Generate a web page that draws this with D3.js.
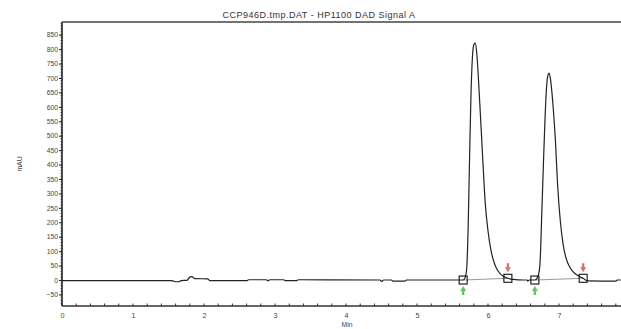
<!DOCTYPE html>
<html>
<head>
<meta charset="utf-8">
<script src="https://cdn.jsdelivr.net/npm/d3@7/dist/d3.min.js"></script>
<style>
  html, body { margin: 0; padding: 0; background: #fff; }
  svg { display: block; font-family: "Liberation Sans", Arial, sans-serif; }
</style>
</head>
<body>
<svg id="chart" width="621" height="329"></svg>
<script>
// Chromatogram trace, [time (min), absorbance (mAU)]
const baselineBefore = [
  [0.00, -2], [1.55, -2], [1.60, -6], [1.64, -6], [1.68, -2], [1.76, -1],
  [1.80, 10], [1.83, 12], [1.87, 5], [2.05, 4], [2.08, -2], [2.60, -2],
  [2.63, 1], [2.88, 1], [2.90, -3], [2.93, 1], [3.12, 1], [3.15, -2],
  [3.30, -2], [3.33, 1], [4.48, 0], [4.50, -5], [4.53, 0], [4.64, 0],
  [4.66, -4], [4.83, -4], [4.85, 0], [5.60, 0]
];
const peak1 = [
  [5.65, 0], [5.68, 10], [5.70, 40], [5.72, 180], [5.74, 420], [5.76, 640],
  [5.78, 770], [5.80, 815], [5.82, 821], [5.84, 790], [5.86, 720], [5.88, 630],
  [5.90, 540], [5.93, 400], [5.96, 270], [6.00, 170], [6.04, 105], [6.08, 65],
  [6.12, 40], [6.17, 22], [6.22, 12], [6.28, 6]
];
const baselineBetween = [
  [6.35, 2], [6.50, 0], [6.55, 0], [6.56, -4], [6.58, 0], [6.62, 0]
];
const peak2 = [
  [6.66, 0], [6.70, 10], [6.73, 50], [6.76, 250], [6.78, 400], [6.80, 540],
  [6.82, 650], [6.84, 705], [6.86, 717], [6.88, 695], [6.90, 650], [6.92, 590],
  [6.95, 480], [6.98, 330], [7.02, 200], [7.06, 120], [7.10, 75], [7.15, 45],
  [7.20, 28], [7.27, 15], [7.34, 6]
];
const baselineAfter = [
  [7.40, -3], [7.80, -4], [7.82, 0], [7.87, 0]
];

// Integration events: peak start and peak end marks
const peakStarts = [[5.65, 0], [6.66, 0]];
const peakEnds = [[6.28, 6], [7.34, 6]];

// Axis ticks
const yTicks = [-50, 0, 50, 100, 150, 200, 250, 300, 350, 400, 450, 500, 550, 600, 650, 700, 750, 800, 850];
const xTicks = [0, 1, 2, 3, 4, 5, 6, 7];

const titleText = "CCP946D.tmp.DAT - HP1100 DAD Signal A";

const svg = d3.select("#chart");
const plotLeft = 62, plotRight = 621, plotTop = 22, plotBottom = 306;

const x = d3.scaleLinear().domain([0, 7.873]).range([plotLeft, plotRight]);
const y = d3.scaleLinear().domain([-90, 894]).range([plotBottom, plotTop]);

// Title
svg.append("text")
  .attr("x", 319).attr("y", 18)
  .attr("text-anchor", "middle")
  .attr("font-size", 9)
  .attr("letter-spacing", 0.5)
  .attr("fill", "#333")
  .text(titleText);

// Y axis with minor ticks every 10 mAU
const yAxis = d3.axisLeft(y).tickValues(yTicks).tickSize(3).tickPadding(1);
const gy = svg.append("g").attr("transform", `translate(${plotLeft},0)`).call(yAxis);
gy.select(".domain").remove();
gy.selectAll(".tick text").attr("font-size", 6.8).attr("fill", "#444").attr("font-family", "Liberation Sans, Arial, sans-serif");
gy.selectAll(".tick line").attr("stroke", "#222");
const yMinor = d3.range(-80, 891, 10);
svg.append("g").selectAll("line").data(yMinor).join("line")
  .attr("x1", plotLeft - 1.5).attr("x2", plotLeft)
  .attr("y1", d => y(d)).attr("y2", d => y(d))
  .attr("stroke", "#333").attr("stroke-width", 0.8);

// X axis with minor ticks every 0.2 min
const xAxis = d3.axisBottom(x).tickValues(xTicks).tickSize(0).tickPadding(7).tickFormat(d3.format("d"));
const gx = svg.append("g").attr("transform", `translate(0,${plotBottom})`).call(xAxis);
gx.select(".domain").remove();
gx.selectAll(".tick text").attr("font-size", 7.2).attr("fill", "#444").attr("font-family", "Liberation Sans, Arial, sans-serif");
const xMinor = d3.range(0, 7.87, 0.2);
svg.append("g").selectAll("line").data(xMinor).join("line")
  .attr("x1", d => x(d)).attr("x2", d => x(d))
  .attr("y1", plotBottom).attr("y2", plotBottom - 2.5)
  .attr("stroke", "#333").attr("stroke-width", 1);

// Frame: left, top and bottom lines
svg.append("line").attr("x1", plotLeft).attr("x2", plotLeft).attr("y1", plotTop).attr("y2", plotBottom)
  .attr("stroke", "#222").attr("stroke-width", 1.6);
svg.append("line").attr("x1", plotLeft).attr("x2", plotRight).attr("y1", plotTop).attr("y2", plotTop)
  .attr("stroke", "#444").attr("stroke-width", 1.6);
svg.append("line").attr("x1", plotLeft).attr("x2", plotRight).attr("y1", plotBottom).attr("y2", plotBottom)
  .attr("stroke", "#333").attr("stroke-width", 1.3);

// Axis titles
svg.append("text")
  .attr("transform", `translate(22,164) rotate(-90)`)
  .attr("text-anchor", "middle")
  .attr("font-size", 6.8).attr("fill", "#444")
  .text("mAU");
svg.append("text")
  .attr("x", 347).attr("y", 327)
  .attr("text-anchor", "middle")
  .attr("font-size", 6.8).attr("fill", "#444")
  .text("Min");

// Baseline drawn under each peak between its start and end marks
svg.append("g").selectAll("line").data(d3.zip(peakStarts, peakEnds)).join("line")
  .attr("x1", d => x(d[0][0])).attr("y1", d => y(d[0][1]))
  .attr("x2", d => x(d[1][0])).attr("y2", d => y(d[1][1]))
  .attr("stroke", "#999").attr("stroke-width", 1);

// Signal trace
const trace = [...baselineBefore, ...peak1, ...baselineBetween, ...peak2, ...baselineAfter];
const line = d3.line().x(d => x(d[0])).y(d => y(d[1])).curve(d3.curveMonotoneX);
svg.append("path")
  .datum(trace)
  .attr("d", line)
  .attr("fill", "none")
  .attr("stroke", "#222")
  .attr("stroke-width", 1.2)
  .attr("stroke-linejoin", "round");

// Start/end boxes
const marks = [...peakStarts, ...peakEnds];
svg.append("g").selectAll("rect").data(marks).join("rect")
  .attr("x", d => x(d[0]) - 4).attr("y", d => y(d[1]) - 4)
  .attr("width", 8).attr("height", 8)
  .attr("fill", "none").attr("stroke", "#111").attr("stroke-width", 1.1);

// Green arrows under starts (pointing up), red arrows above ends (pointing down)
svg.append("g").selectAll("path").data(peakStarts).join("path")
  .attr("d", d => {
    const cx = x(d[0]), cy = y(d[1]) + 6;
    return `M${cx},${cy} L${cx + 3},${cy + 5} L${cx + 1.2},${cy + 5} L${cx + 1.2},${cy + 9} L${cx - 1.2},${cy + 9} L${cx - 1.2},${cy + 5} L${cx - 3},${cy + 5} Z`;
  })
  .attr("fill", "#6cc06c");
svg.append("g").selectAll("path").data(peakEnds).join("path")
  .attr("d", d => {
    const cx = x(d[0]), cy = y(d[1]) - 6;
    return `M${cx},${cy} L${cx + 3},${cy - 5} L${cx + 1.2},${cy - 5} L${cx + 1.2},${cy - 9} L${cx - 1.2},${cy - 9} L${cx - 1.2},${cy - 5} L${cx - 3},${cy - 5} Z`;
  })
  .attr("fill", "#d9707a");
</script>
</body>
</html>
